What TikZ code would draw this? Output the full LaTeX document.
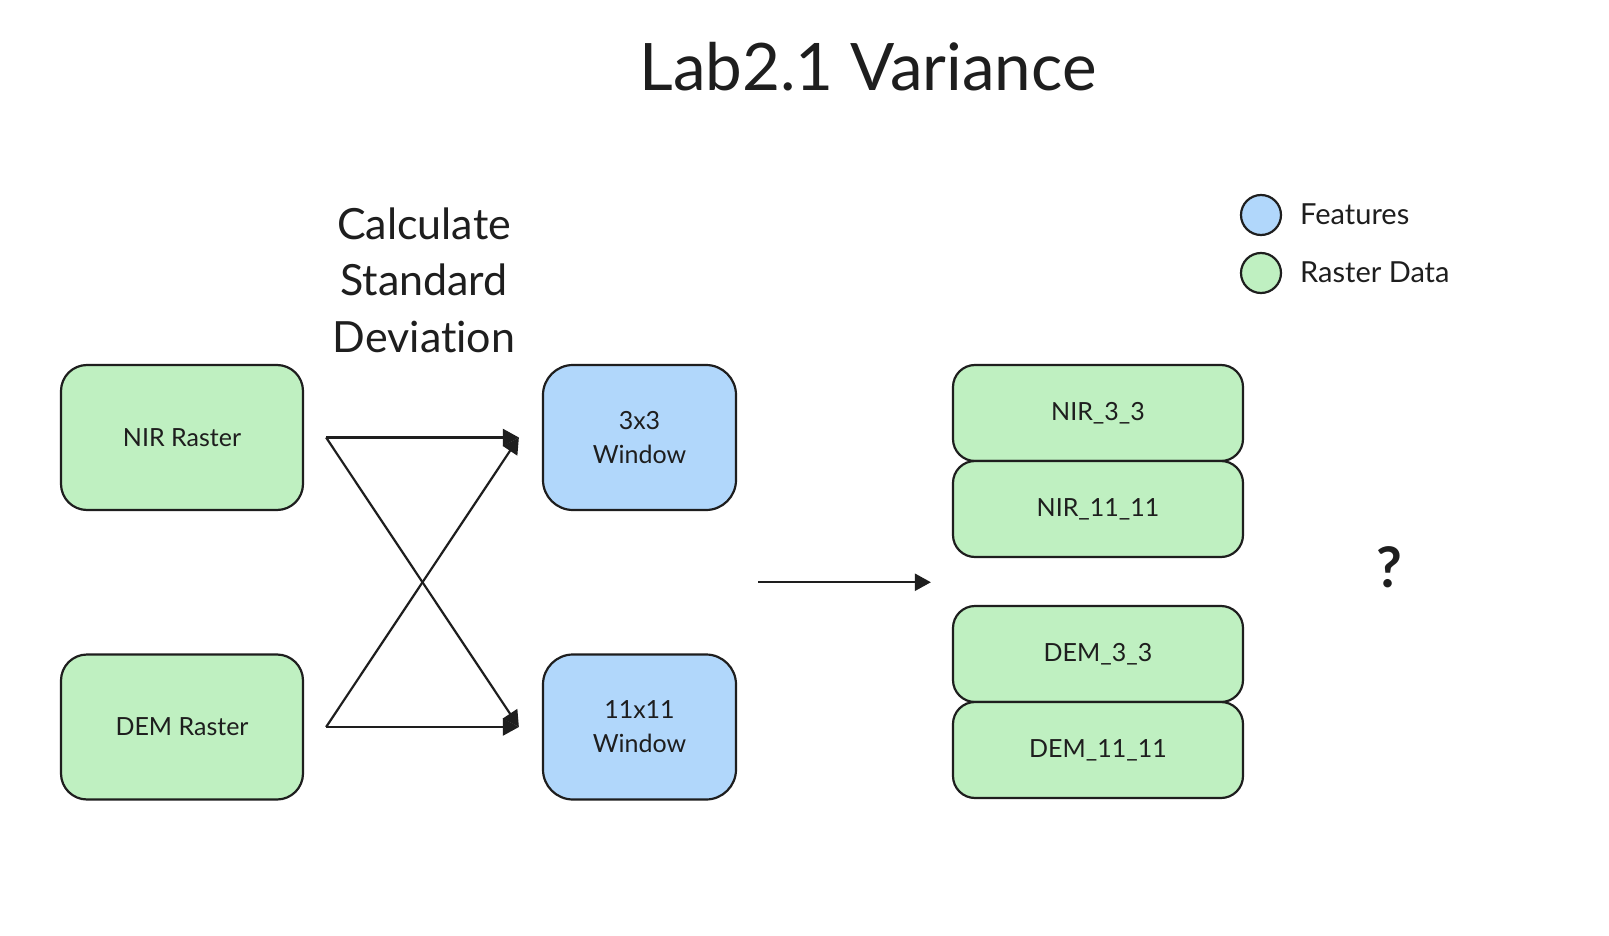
\documentclass[tikz,border=0pt]{standalone}
\usepackage{fontspec}
\setmainfont{Lato}[Ligatures=NoCommon]
\usetikzlibrary{arrows.meta,calc}
\definecolor{ink}{HTML}{1E1E1E}
\definecolor{rasterfill}{HTML}{BFF0C1}
\definecolor{featfill}{HTML}{B1D7FB}
\begin{document}
\begin{tikzpicture}[x=1pt,y=-1pt,
  box/.style={draw=ink, line width=2.2pt, text=ink, inner sep=0pt, align=center,
    font=\fontsize{25}{34}\selectfont},
  raster/.style={box, fill=rasterfill},
  feat/.style={box, fill=featfill},
  bigbox/.style={minimum width=242pt, minimum height=145pt, rounded corners=26pt},
  winbox/.style={minimum width=193pt, minimum height=145pt, rounded corners=30pt},
  outbox/.style={minimum width=290pt, minimum height=96pt, rounded corners=22pt},
  arr/.style={draw=ink, line width=2.2pt, -{Triangle[length=16pt,width=17pt]}},
  legdot/.style={circle, draw=ink, line width=2.2pt, minimum size=40pt, inner sep=0pt},
  legtext/.style={anchor=base west, text=ink, inner sep=0pt, font=\fontsize{29}{34}\selectfont},
]
\useasboundingbox[fill=white] (0,0) rectangle (1609,936);

\node[anchor=base, text=ink, font=\fontsize{65.5}{70}\selectfont] (title) at (868,91) {Lab2.1 Variance};

\node[align=center, text=ink, inner sep=0pt, font=\fontsize{43}{56.5}\selectfont] (calc) at (424,280)
  {Calculate\\Standard\\Deviat\kern0pt ion};

\node[raster, bigbox] (nir) at (182,437.5) {NIR Raster};
\node[raster, bigbox] (dem) at (182,727) {DEM Raster};

\node[feat, winbox] (w3) at (639.5,437.5) {3x3\\Window};
\node[feat, winbox] (w11) at (639.5,727) {11x11\\Window};

\node[raster, outbox] (n3) at (1098,413) {NIR\_3\_3};
\node[raster, outbox] (n11) at (1098,509) {NIR\_11\_11};
\node[raster, outbox] (d3) at (1098,654) {DEM\_3\_3};
\node[raster, outbox] (d11) at (1098,750) {DEM\_11\_11};

\node[legdot, fill=featfill] (lf) at (1261,215) {};
\node[legdot, fill=rasterfill] (lr) at (1261,273) {};
\node[legtext] (lft) at (1300,225) {Features};
\node[legtext] (lrt) at (1300,282) {Raster Data};

\node[text=ink, font=\bfseries\fontsize{56}{60}\selectfont] (q) at (1389,567) {?};

\coordinate (s1) at ($(nir.east)+(22,0)$);
\coordinate (s2) at ($(dem.east)+(22,0)$);
\coordinate (t1) at ($(w3.west)+(-23,0)$);
\coordinate (t2) at ($(w11.west)+(-23,0)$);
\draw[arr] (s1) -- (t1);
\draw[arr] (s1) -- (t2);
\draw[arr] (s2) -- (t2);
\draw[arr] (s2) -- (t1);

\coordinate (m1) at ($($(w3.east)!0.5!(w11.east)$)+(21,0)$);
\coordinate (m2) at ($(m1 -| n11.west)+(-21,0)$);
\draw[arr] (m1) -- (m2);
\end{tikzpicture}
\end{document}
